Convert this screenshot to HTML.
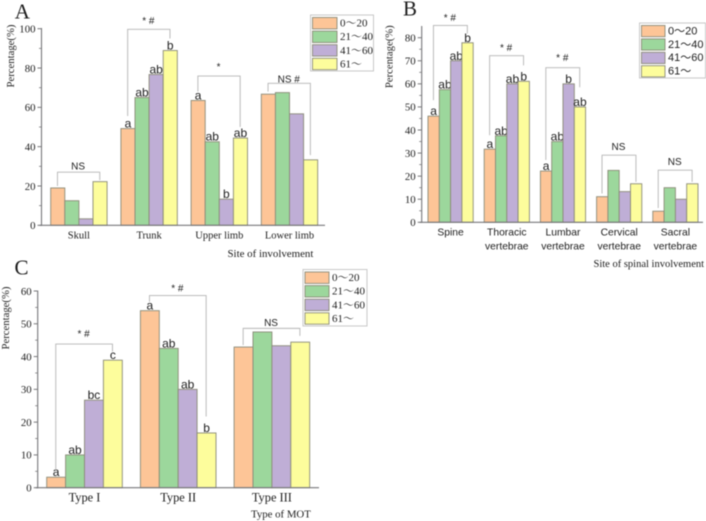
<!DOCTYPE html>
<html lang="en">
<head>
<meta charset="utf-8">
<title>Percentage charts by age group</title>
<style>
html,body{margin:0;padding:0;background:#fff;width:706px;height:521px;overflow:hidden}
svg{display:block;filter:blur(0.45px)}
text{fill:#1c1c1c}
.serif{font-family:"Liberation Serif","Noto Serif CJK SC",serif}
.sans{font-family:"Liberation Sans","Noto Sans CJK SC",sans-serif}
</style>
</head>
<body>
<svg id="chart" width="706" height="521" viewBox="0 0 706 521" xmlns="http://www.w3.org/2000/svg"></svg>
<script>
var seriesLabels = ['0～20', '21～40', '41～60', '61～'];
var seriesColors = ['#fdc597', '#9cd79c', '#bfaed6', '#fdfd9c'];

var categoriesA = ['Skull', 'Trunk', 'Upper limb', 'Lower limb'];
var valuesA0 = [19, 49.2, 63.5, 66.7];
var valuesA1 = [12.5, 65, 42.5, 67.5];
var valuesA2 = [3.3, 76.7, 13.3, 56.7];
var valuesA3 = [22.2, 88.9, 44.4, 33.3];
var ticksA = [0, 20, 40, 60, 80, 100];
var lettersA = [['', '', '', ''], ['a', 'ab', 'ab', 'b'], ['a', 'ab', 'b', 'ab'], ['', '', '', '']];
// label, group, left end, top, right end, label baseline (all in axis units)
var bracketsA = [
  ['NS', 0, 20, 27, 23, 28.5],
  ['* #', 1, 55.6, 99.7, 95, 102.3],
  ['*', 2, 68, 75.9, 50, 79],
  ['NS #', 3, 68, 72.2, 35.7, 72.6]
];

var categoriesB = [['Spine'], ['Thoracic', 'vertebrae'], ['Lumbar', 'vertebrae'], ['Cervical', 'vertebrae'], ['Sacral', 'vertebrae']];
var valuesB0 = [46, 31.7, 22.2, 11.1, 4.8];
var valuesB1 = [57.5, 37.5, 35, 22.5, 15];
var valuesB2 = [70, 60, 60, 13.3, 10];
var valuesB3 = [77.8, 61.1, 50, 16.7, 16.7];
var ticksB = [0, 10, 20, 30, 40, 50, 60, 70, 80];
var lettersB = [['a', 'ab', 'ab', 'b'], ['a', 'ab', 'ab', 'b'], ['a', 'ab', 'b', 'ab'], ['', '', '', ''], ['', '', '', '']];
var bracketsB = [
  ['* #', 0, 52.9, 85.3, 81.8, 87.2],
  ['* #', 1, 37.7, 72.2, 68, 74.2],
  ['* #', 2, 27, 67, 58.5, 69.9],
  ['NS', 3, 12.5, 29.1, 17.5, 31.3],
  ['NS', 4, 6.2, 22.6, 17.5, 24.8]
];

var categoriesC = ['Type I', 'Type II', 'Type III'];
var valuesC0 = [3.2, 54, 42.9];
var valuesC1 = [10, 42.5, 47.5];
var valuesC2 = [26.7, 30, 43.3];
var valuesC3 = [38.9, 16.7, 44.4];
var ticksC = [0, 10, 20, 30, 40, 50, 60];
var lettersC = [['a', 'ab', 'bc', 'c'], ['a', 'ab', 'ab', 'b'], ['', '', '', '']];
var bracketsC = [
  ['* #', 0, 5, 43.8, 41.5, 45.9],
  ['* #', 1, 56.7, 58.6, 21.7, 59.8],
  ['NS', 2, 43.5, 48.6, 46.3, 49.3]
];

var svg = document.getElementById('chart');
var NS_URI = 'http://www.w3.org/2000/svg';

function make(tag, attrs, parent, content) {
  var el = document.createElementNS(NS_URI, tag);
  for (var k in attrs) { el.setAttribute(k, attrs[k]); }
  if (content !== undefined) { el.textContent = content; }
  parent.appendChild(el);
  return el;
}

function drawChart(c) {
  var g = make('g', {}, svg);
  
  

  function yScale(v) { return c.y0 - (v / c.yMax) * (c.y0 - c.yTop); }
  function xBar(gi, si) { return c.x0 + gi * c.step + si * c.barW; }
  var stroke = '#8b8b78';

  // panel letter
  var panel = make('text', {x: c.panelX, y: c.panelY, 'font-size': 21, 'class': 'serif'}, g, c.panel);
  
  

  // bars and letters
  for (var s = 0; s < 4; s++) {
    for (var i = 0; i < c.cats.length; i++) {
      var v = c.series[s][i];
      var bar = make('rect', {
        x: xBar(i, s), y: yScale(v), width: c.barW, height: c.y0 - yScale(v),
        fill: seriesColors[s], stroke: stroke, 'stroke-width': 0.9
      }, g);
      
      
      var letter = c.letters[i][s];
      if (letter) {
        var lab = make('text', {
          x: xBar(i, s) + c.barW / 2, y: yScale(v) - 1, 'text-anchor': 'middle',
          'font-size': 12, 'class': 'sans'
        }, g, letter);
        
        
      }
    }
  }

  // brackets
  c.brackets.forEach(function (b) {
    var lx = xBar(b[1], 0) + c.barW * 0.48;
    var rx = xBar(b[1], 3) + c.barW * 0.48;
    var top = yScale(b[3]);
    var path = make('path', {
      d: 'M' + lx + ' ' + yScale(b[2]) + 'V' + top + 'H' + rx + 'V' + yScale(b[4]),
      fill: 'none', stroke: '#b4b4b4', 'stroke-width': 0.9
    }, g);
    
    
    var note = make('text', {
      x: (lx + rx) / 2 - 0.5, y: yScale(b[5]), 'text-anchor': 'middle',
      'font-size': 10, 'class': 'sans'
    }, g, b[0]);
    
    
  });

  // axes
  var yAxis = make('line', {x1: c.axisX, x2: c.axisX, y1: c.axisTop, y2: c.y0 + 0.5, stroke: '#77777a', 'stroke-width': 1.1}, g);
  
  
  var xAxis = make('line', {x1: c.axisX - 2, x2: c.axisEnd, y1: c.y0, y2: c.y0, stroke: '#77777a', 'stroke-width': 1.1}, g);
  
  

  // y ticks
  c.ticks.forEach(function (t, idx) {
    var ty = yScale(t);
    var tick = make('line', {x1: c.axisX - 4, x2: c.axisX, y1: ty, y2: ty, stroke: '#77777a', 'stroke-width': 1}, g);
    
    
    var lbl = make('text', {x: c.axisX - 6, y: ty + 3.8, 'text-anchor': 'end', 'font-size': 10.8, 'class': 'serif'}, g, String(t));
    
    
    if (idx < c.ticks.length - 1) {
      var my = yScale((t + c.ticks[idx + 1]) / 2);
      var minor = make('line', {x1: c.axisX - 2.5, x2: c.axisX, y1: my, y2: my, stroke: '#77777a', 'stroke-width': 0.8}, g);
      
      
    }
  });

  // category labels
  c.cats.forEach(function (cat, i) {
    var lines = Array.isArray(cat) ? cat : [cat];
    var cx = xBar(i, 2);
    lines.forEach(function (line, li) {
      var t = make('text', {
        x: cx, y: c.catY + li * c.catLine, 'text-anchor': 'middle',
        'font-size': c.catSize, 'class': c.catClass
      }, g, line);
      
      
    });
  });

  // axis titles
  var yt = make('text', {
    transform: 'translate(' + c.yTitleX + ' ' + c.yTitleY + ') rotate(-90)',
    'text-anchor': 'middle', 'font-size': 10.7, 'class': 'serif'
  }, g, 'Percentage(%)');
  
  
  var xt = make('text', {x: c.xTitleX, y: c.xTitleY, 'font-size': c.xTitleSize, 'class': 'serif'}, g, c.xTitle);
  
  

  // legend
  var leg = make('g', {}, g);
  
  
  var box = make('rect', {x: c.leg.x, y: c.leg.y, width: c.leg.w, height: c.leg.h, fill: '#fff', stroke: '#c8c8c8', 'stroke-width': 1}, leg);
  
  
  seriesLabels.forEach(function (name, s) {
    var sy = c.leg.y + 2.5 + s * c.leg.rowH;
    var sw = make('rect', {x: c.leg.x + 2, y: sy, width: c.leg.swW, height: c.leg.rowH - 2.2, fill: seriesColors[s], stroke: stroke, 'stroke-width': 0.9}, leg);
    
    
    var tx = make('text', {x: c.leg.x + c.leg.swW + 5, y: sy + c.leg.rowH - 4.5, 'font-size': c.leg.size, 'class': c.leg.cls}, leg, name);
    
    
  });
}

drawChart({
  key: 'a', panel: 'A', panelX: 14.7, panelY: 18.5, cats: categoriesA,
  series: [valuesA0, valuesA1, valuesA2, valuesA3], ticks: ticksA, letters: lettersA, brackets: bracketsA,
  x0: 50.7, step: 70.2, barW: 14.1, y0: 225.3, yTop: 28.7, yMax: 100,
  axisX: 41.5, axisTop: 28, axisEnd: 325, catY: 238.5, catLine: 14, catSize: 10.5, catClass: 'serif',
  yTitleX: 14, yTitleY: 56, xTitle: 'Site of involvement', xTitleX: 227.5, xTitleY: 256.8, xTitleSize: 10.9,
  leg: {x: 310.5, y: 15, w: 63, h: 56, swW: 24.5, rowH: 13.6, size: 11, cls: 'serif'}
});
drawChart({
  key: 'b', panel: 'B', panelX: 403, panelY: 15.5, cats: categoriesB,
  series: [valuesB0, valuesB1, valuesB2, valuesB3], ticks: ticksB, letters: lettersB, brackets: bracketsB,
  x0: 428, step: 56.2, barW: 11.3, y0: 222.3, yTop: 37.7, yMax: 80,
  axisX: 421.7, axisTop: 26, axisEnd: 703, catY: 235.5, catLine: 14, catSize: 10.3, catClass: 'sans',
  yTitleX: 392.5, yTitleY: 56.7, xTitle: 'Site of spinal involvement', xTitleX: 593.5, xTitleY: 266.8, xTitleSize: 10.5,
  leg: {x: 639.5, y: 23, w: 66, h: 55, swW: 23.5, rowH: 13.4, size: 11, cls: 'sans'}
});
drawChart({
  key: 'c', panel: 'C', panelX: 14.5, panelY: 274.5, cats: categoriesC,
  series: [valuesC0, valuesC1, valuesC2, valuesC3], ticks: ticksC, letters: lettersC, brackets: bracketsC,
  x0: 46.7, step: 93.7, barW: 18.9, y0: 487.7, yTop: 291, yMax: 60,
  axisX: 37.7, axisTop: 290.5, axisEnd: 319, catY: 501.7, catLine: 14, catSize: 12.4, catClass: 'serif',
  yTitleX: 9, yTitleY: 318, xTitle: 'Type of MOT', xTitleX: 251, xTitleY: 517.3, xTitleSize: 10.8,
  leg: {x: 303, y: 269.5, w: 64, h: 56.5, swW: 24, rowH: 13.6, size: 11, cls: 'serif'}
});
</script>
</body>
</html>
